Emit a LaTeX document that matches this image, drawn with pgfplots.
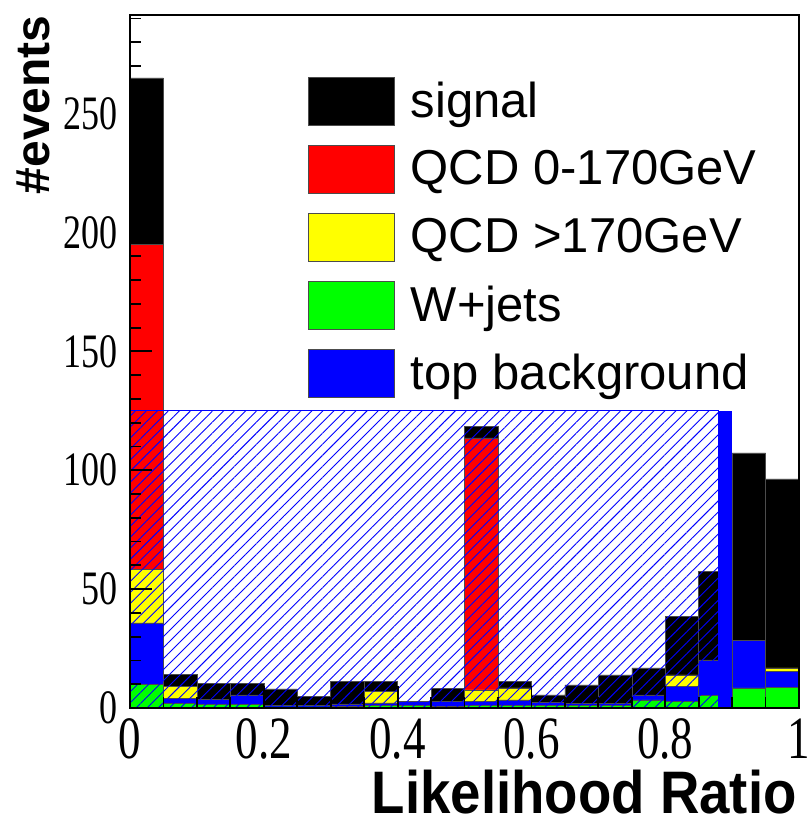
\documentclass[border=0pt]{standalone}
\usepackage{fontspec}
\setmainfont{Liberation Serif}
\setsansfont{Liberation Sans}
\usepackage{pgfplots}
\pgfplotsset{compat=1.18}
\usepackage{pgfplotstable}
\usetikzlibrary{patterns.meta}

\definecolor{rootred}{RGB}{255,0,0}
\definecolor{rootyellow}{RGB}{255,255,0}
\definecolor{rootgreen}{RGB}{0,255,0}
\definecolor{rootblue}{RGB}{0,0,255}

% stacked contributions per likelihood-ratio bin (bin centre, events)
\pgfplotstableread{
x      wjets  top    qcdhi  qcdlo  signal
0.025  10.0   25.8   22.6   136.6  70.0
0.075  2.0    2.0    5.0    0      5.0
0.125  1.5    2.0    0      0      6.8
0.175  1.5    4.0    0      0      4.8
0.225  0.5    0.5    0      0      7.0
0.275  0.5    0.5    0      0      4.0
0.325  0.8    0.9    0      0      9.4
0.375  1.0    1.2    4.9    0      4.0
0.425  1.0    1.9    0      0      0
0.475  0.7    2.0    0      0      5.6
0.525  1.0    1.7    4.9    106.0  4.9
0.575  1.0    2.4    5.1    0      2.8
0.625  1.0    1.4    0      0      3.1
0.675  1.0    1.0    0      0      7.7
0.725  1.2    0.8    0      0      11.9
0.775  3.4    2.1    0      0      11.4
0.825  2.9    6.1    4.9    0      24.7
0.875  5.2    15.0   0      0      37.4
0.925  8.5    20.1   0      0      78.7
0.975  8.8    6.7    1.4    0      79.5
}\lrtable

\pgfplotsset{
  legendbox/.style={legend image code/.code={\fill[##1] (0pt,-12pt) rectangle (43pt,12pt);}},
}

\begin{document}
\begin{tikzpicture}
\begin{axis}[
  set layers, axis on top,
  scale only axis,
  width=334.5pt, height=346.5pt,
  xmin=0, xmax=1, ymin=0, ymax=291.5,
  ybar stacked, bar width=0.05, bar shift=0pt,
  axis line style={line width=0.9pt},
  every tick/.style={line width=0.9pt, black},
  major tick length=11pt, minor tick length=5.5pt,
  xtick={0,0.2,...,1.0}, minor xtick={0.05,0.1,...,0.96},
  ytick={0,50,...,250}, minor ytick={10,20,...,290},
  xtick pos=bottom, ytick pos=left,
  xticklabel={\scalebox{0.75}[1]{\pgfmathprintnumber[assume math mode=true]{\tick}}},
  yticklabel={\scalebox{0.75}[1]{\pgfmathprintnumber[assume math mode=true]{\tick}}},
  xticklabel style={font=\fontsize{30}{30}\selectfont, anchor=north, inner sep=0pt, yshift=-5pt},
  yticklabel style={font=\fontsize{24}{24}\selectfont, anchor=east, inner sep=0pt, xshift=-6pt},
  xlabel={\scalebox{0.91}[1]{Likelihood Ratio}},
  ylabel={\#events},
  xlabel style={font=\fontsize{30}{30}\selectfont\sffamily\bfseries,
    at={(axis description cs:0.997,0)}, anchor=base east, inner sep=0pt, yshift=-52.5pt},
  ylabel style={font=\fontsize{24}{24}\selectfont\sffamily\bfseries,
    at={(axis description cs:-0.1196,1)}, anchor=base east, inner sep=0pt},
  legend style={at={(0.266,0.911)}, anchor=north west, draw=none, fill=none,
    inner sep=0pt, row sep=9.75pt, column sep=8pt,
    font=\fontsize{24.5}{24.5}\selectfont\sffamily, nodes={inner sep=0pt}},
  legend cell align=left,
  every axis plot/.append style={draw=black!70, line width=0.25pt},
]
\addplot[fill=rootgreen, forget plot] table[x=x, y=wjets] {\lrtable};
\addplot[fill=rootblue, forget plot] table[x=x, y=top] {\lrtable};
\addplot[fill=rootyellow, forget plot] table[x=x, y=qcdhi] {\lrtable};
\addplot[fill=rootred, forget plot] table[x=x, y=qcdlo] {\lrtable};
\addplot[fill=black, forget plot] table[x=x, y=signal] {\lrtable};

% hatched reference histogram, drawn over the stack
\addplot[on layer=axis grid, stack plots=false, sharp plot, draw=rootblue, line width=0.6pt,
  pattern={Lines[angle=45, distance=3.9pt, line width=0.45pt]}, pattern color=rootblue,
  forget plot] coordinates {(0,125) (0.88,125)} \closedcycle;
\addplot[on layer=axis grid, stack plots=false, sharp plot, draw=none, fill=rootblue, forget plot]
  coordinates {(0.88,125) (0.90,125)} \closedcycle;

\coordinate (ll) at (rel axis cs:0,0);
\coordinate (ur) at (rel axis cs:1,1);

\addlegendimage{legendbox, fill=black}\addlegendentry{signal}
\addlegendimage{legendbox, fill=rootred}\addlegendentry{QCD 0-170GeV}
\addlegendimage{legendbox, fill=rootyellow}\addlegendentry{QCD >170GeV}
\addlegendimage{legendbox, fill=rootgreen}\addlegendentry{W+jets}
\addlegendimage{legendbox, fill=rootblue}\addlegendentry{top background}
\end{axis}
\pgfresetboundingbox
\path[use as bounding box] ([shift={(-65pt,-57pt)}]ll) rectangle ([shift={(4pt,7.5pt)}]ur);
\end{tikzpicture}
\end{document}
